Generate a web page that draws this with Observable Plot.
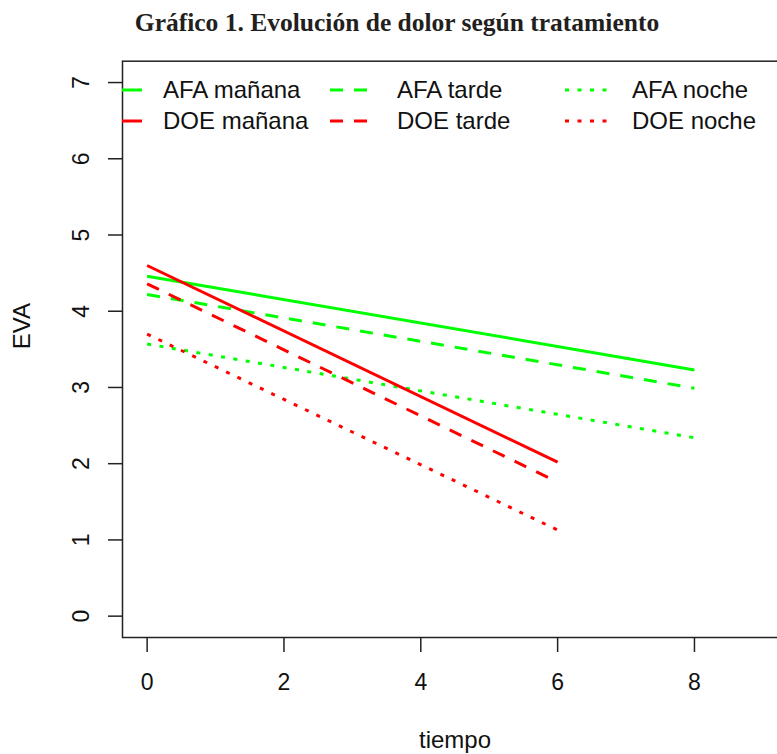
<!DOCTYPE html>
<html><head><meta charset="utf-8">
<script src="https://cdn.jsdelivr.net/npm/d3@7"></script>
<script src="https://cdn.jsdelivr.net/npm/@observablehq/plot@0.6"></script>
<style>
html,body{margin:0;padding:0;background:#fff;overflow:hidden;}
#wrap{position:relative;width:777px;height:754px;overflow:hidden;background:#fff;}
#title{height:45px;line-height:45px;padding-left:17px;text-align:center;font-family:"Liberation Serif","Times New Roman",serif;font-weight:bold;font-size:25.5px;color:#231f20;white-space:nowrap;}
#legend{position:absolute;left:0;top:0;width:777px;height:754px;pointer-events:none;}
</style></head><body>
<div id="wrap">
  <div id="title">Gráfico 1. Evolución de dolor según tratamiento</div>
  <div id="chart"></div>
  <svg id="legend" width="777" height="754"></svg>
</div>
<script>
// ---- data ----
const tiempoAFA = [0, 8];
const tiempoDOE = [0, 6];
const afaManana = [4.46, 3.23];
const afaTarde  = [4.22, 2.99];
const afaNoche  = [3.57, 2.34];
const doeManana = [4.60, 2.02];
const doeTarde  = [4.36, 1.76];
const doeNoche  = [3.70, 1.13];
const grupos = ["AFA", "DOE"];
const turnos = ["mañana", "tarde", "noche"];
const yTicks = [0, 1, 2, 3, 4, 5, 6, 7];
const xTicks = [0, 2, 4, 6, 8];
const xLabel = "tiempo";
const yLabel = "EVA";

// ---- table ----
const seriesDefs = [
  {grupo: "AFA", turno: "mañana", t: tiempoAFA, v: afaManana},
  {grupo: "AFA", turno: "tarde",  t: tiempoAFA, v: afaTarde},
  {grupo: "AFA", turno: "noche",  t: tiempoAFA, v: afaNoche},
  {grupo: "DOE", turno: "mañana", t: tiempoDOE, v: doeManana},
  {grupo: "DOE", turno: "tarde",  t: tiempoDOE, v: doeTarde},
  {grupo: "DOE", turno: "noche",  t: tiempoDOE, v: doeNoche}
];
const rows = seriesDefs.flatMap(s => s.t.map((t, i) => ({serie: s.grupo + " " + s.turno, grupo: s.grupo, turno: s.turno, tiempo: t, eva: s.v[i]})));

const colors = {AFA: "#00ff00", DOE: "#ff0000"};
const dashes = {"mañana": null, "tarde": "13 11", "noche": "4 8.5"};

const lineMarks = [];
for (const g of grupos) {
  for (const tu of turnos) {
    lineMarks.push(Plot.line(rows.filter(d => d.grupo === g && d.turno === tu), {
      x: "tiempo", y: "eva", z: "serie", stroke: "grupo",
      strokeWidth: 3, strokeDasharray: dashes[tu] ?? undefined, strokeLinecap: "butt"
    }));
  }
}

const chart = Plot.plot({
  width: 777, height: 709,
  marginTop: 15.7, marginBottom: 117, marginLeft: 122, marginRight: -10,
  x: {domain: [-0.36, 9.36], label: null},
  y: {domain: [-0.28, 7.28], label: null},
  color: {domain: grupos, range: [colors.AFA, colors.DOE]},
  style: {fontFamily: "'Liberation Sans', Arial, sans-serif", fontSize: "24px", color: "#111", background: "white"},
  marks: [
    Plot.frame({stroke: "#222", strokeWidth: 1.5}),
    Plot.axisY(yTicks, {tickSize: 14, tickPadding: 20, tickRotate: -90, tickFormat: d => String(d), stroke: "#222", strokeWidth: 1.5, fontSize: 23, label: null}),
    Plot.axisX(xTicks, {tickSize: 15, tickPadding: 21, tickFormat: d => String(d), stroke: "#222", strokeWidth: 1.5, fontSize: 23, label: null}),
    ...lineMarks,
    Plot.text([xLabel], {frameAnchor: "bottom", dy: 110, text: d => d, fontSize: 24}),
    Plot.text([yLabel], {frameAnchor: "left", dx: -100, rotate: -90, text: d => d, fontSize: 24})
  ]
});
document.getElementById("chart").appendChild(chart);

// ---- legend (R-style, three columns, no box) ----
const legendItems = [
  {label: "AFA mañana", grupo: "AFA", turno: "mañana"},
  {label: "DOE mañana", grupo: "DOE", turno: "mañana"},
  {label: "AFA tarde",  grupo: "AFA", turno: "tarde"},
  {label: "DOE tarde",  grupo: "DOE", turno: "tarde"},
  {label: "AFA noche",  grupo: "AFA", turno: "noche"},
  {label: "DOE noche",  grupo: "DOE", turno: "noche"}
];
const colLineX = [[122, 142], [330, 370], [565, 607]];
const colTextX = [163, 397, 632];
const rowY = [90, 121];
const lg = d3.select("#legend");
legendItems.forEach((it, i) => {
  const c = Math.floor(i / 2), r = i % 2;
  const ln = lg.append("line")
    .attr("x1", colLineX[c][0]).attr("x2", colLineX[c][1])
    .attr("y1", rowY[r]).attr("y2", rowY[r])
    .attr("stroke", colors[it.grupo]).attr("stroke-width", 3);
  if (dashes[it.turno]) ln.attr("stroke-dasharray", dashes[it.turno]);
  lg.append("text")
    .attr("x", colTextX[c]).attr("y", rowY[r]).attr("dy", "0.35em")
    .attr("font-family", "'Liberation Sans', Arial, sans-serif")
    .attr("font-size", 24).attr("fill", "#111")
    .text(it.label);
});
</script>
</body></html>
